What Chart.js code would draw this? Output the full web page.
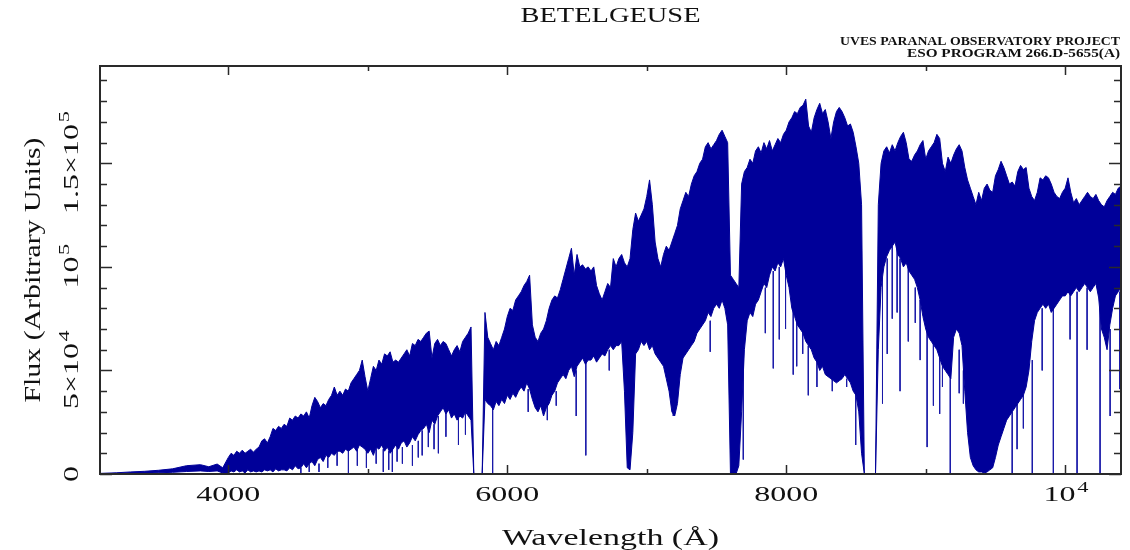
<!DOCTYPE html>
<html>
<head>
<meta charset="utf-8">
<title>Betelgeuse</title>
<script src="https://cdn.jsdelivr.net/npm/chart.js@4.4.1/dist/chart.umd.min.js"></script>
<style>
  html, body { margin: 0; padding: 0; background: #fff; }
  #wrap { width: 1130px; height: 550px; position: relative; }
</style>
</head>
<body>
<div id="wrap"><canvas id="spectrum"></canvas></div>
<script>
// Wavelength grid (Å) with the upper and lower edge of the flux band, in units of 10^3
const wavelength = [
  3080, 3200, 3300, 3400, 3500, 3600, 3700, 3800, 3860, 3920, 3960,
  4000, 4020, 4040, 4060, 4080, 4100, 4120, 4140, 4160, 4180,
  4200, 4220, 4240, 4260, 4280, 4300, 4320, 4340, 4360, 4380,
  4400, 4420, 4440, 4460, 4480, 4500, 4520, 4540, 4560, 4580,
  4600, 4620, 4640, 4660, 4680, 4700, 4720, 4740, 4760, 4780,
  4800, 4820, 4840, 4860, 4880, 4900, 4920, 4940, 4960, 4980,
  5000, 5020, 5040, 5060, 5080, 5100, 5120, 5140, 5160, 5180,
  5200, 5220, 5240, 5260, 5280, 5300, 5320, 5340, 5360, 5380,
  5400, 5420, 5440, 5460, 5480, 5500, 5520, 5540, 5560, 5580,
  5600, 5620, 5640, 5660, 5680, 5700, 5720, 5740, 5760, 5780,
  5800, 5820, 5840, 5860, 5880, 5900, 5920, 5940, 5960, 5980,
  6000, 6020, 6040, 6060, 6080, 6100, 6120, 6140, 6160, 6180,
  6200, 6220, 6240, 6260, 6280, 6300, 6320, 6340, 6360, 6380,
  6400, 6420, 6440, 6460, 6480, 6500, 6520, 6540, 6560, 6580,
  6600, 6620, 6640, 6660, 6680, 6700, 6720, 6740, 6760, 6780,
  6800, 6820, 6840, 6860, 6880, 6900, 6920, 6940, 6960, 6980,
  7000, 7020, 7040, 7060, 7080, 7100, 7120, 7140, 7160, 7180,
  7200, 7220, 7240, 7260, 7280, 7300, 7320, 7340, 7360, 7380,
  7400, 7420, 7440, 7460, 7480, 7500, 7520, 7540, 7560, 7580,
  7600, 7620, 7640, 7660, 7680, 7700, 7720, 7740, 7760, 7780,
  7800, 7820, 7840, 7860, 7880, 7900, 7920, 7940, 7960, 7980,
  8000, 8020, 8040, 8060, 8080, 8100, 8120, 8140, 8160, 8180,
  8200, 8220, 8240, 8260, 8280, 8300, 8320, 8340, 8360, 8380,
  8400, 8420, 8440, 8460, 8480, 8500, 8520, 8540, 8560, 8580,
  8600, 8620, 8640, 8660, 8680, 8700, 8720, 8740, 8760, 8780,
  8800, 8820, 8840, 8860, 8880, 8900, 8920, 8940, 8960, 8980,
  9000, 9020, 9040, 9060, 9080, 9100, 9120, 9140, 9160, 9180,
  9200, 9220, 9240, 9260, 9280, 9300, 9320, 9340, 9360, 9380,
  9400, 9420, 9440, 9460, 9480, 9500, 9520, 9540, 9560, 9580,
  9600, 9620, 9640, 9660, 9680, 9700, 9720, 9740, 9760, 9780,
  9800, 9820, 9840, 9860, 9880, 9900, 9920, 9940, 9960, 9980,
  10000, 10020, 10040, 10060, 10080, 10100, 10120, 10140, 10160, 10180,
  10200, 10220, 10240, 10260, 10280, 10300, 10320, 10340, 10360, 10380,
  10400
];
const fluxTop = [
  0.3, 0.6, 1.0, 1.3, 1.8, 2.5, 4.0, 4.5, 3.5, 4.8, 3.0,
  8, 10, 9, 11, 10, 11.5, 10, 11, 12, 10.5,
  12, 13, 16, 17, 15, 18, 22, 21, 23, 22,
  24, 23, 27, 26, 28, 27, 29, 28, 30, 27,
  33, 37, 35, 32, 34, 33, 36, 38, 42, 38,
  40, 38, 41, 40, 44, 46, 48, 50, 55, 47,
  40, 46, 52, 50, 55, 53, 58, 57, 59, 54,
  55, 54, 56, 58, 60, 57, 63, 62, 65, 64,
  66, 68, 69, 56, 63, 65, 62, 64, 63, 60,
  57, 60, 62, 59, 64, 66, 68, 71, 0, 0,
  0, 0, 78, 66, 63, 60, 64, 62, 66, 70,
  76, 80, 79, 84, 86, 88, 91, 93, 96, 72,
  66, 64, 68, 70, 74, 80, 84, 86, 85, 89,
  94, 99, 104, 109, 96, 106, 100, 101, 99, 100,
  98, 100, 91, 87, 84, 88, 92, 90, 104, 100,
  104, 106, 102, 100, 104, 118, 126, 122, 125, 128,
  134, 142, 130, 112, 104, 100, 106, 110, 108, 112,
  116, 120, 128, 132, 136, 134, 140, 144, 146, 150,
  152, 158, 160, 157, 159, 161, 164, 166, 163, 160,
  96, 94, 92, 90, 140, 146, 148, 152, 150, 156,
  158, 155, 160, 157, 161, 156, 159, 162, 160, 164,
  166, 170, 172, 175, 174, 177, 178, 181, 168, 165,
  172, 176, 179, 174, 176, 170, 162, 170, 175, 177,
  175, 172, 168, 169, 165, 158, 150, 130, 0, 0,
  0, 0, 0, 130, 150, 156, 158, 155, 159, 156,
  160, 163, 165, 160, 152, 151, 154, 156, 159, 161,
  152, 156, 158, 160, 164, 162, 150, 146, 153, 150,
  154, 157, 159, 156, 148, 142, 138, 134, 130, 136,
  132, 138, 140, 137, 136, 144, 147, 151, 148, 144,
  140, 141, 139, 146, 149, 147, 148, 138, 134, 132,
  136, 143, 142, 144, 143, 140, 136, 134, 133, 136,
  138, 143, 136, 131, 133, 130, 132, 134, 136, 134,
  133, 135, 132, 130, 129, 132, 134, 136, 135, 138,
  139
];
const fluxBottom = [
  0, 0, 0.2, 0.4, 0.6, 0.8, 1.2, 1.5, 1.2, 1.5, 0.5,
  0.5, 1.5, 1, 2, 1, 1.5, 0.5, 2, 1, 1.5,
  1, 1.5, 1, 2, 1.5, 2, 1, 2.5, 1.5, 2,
  2, 1.5, 3, 2, 4, 2.5, 3, 5, 3, 5,
  6, 4, 7, 8, 6, 9, 8, 10, 9, 11,
  11, 10, 12, 11, 12, 13, 11, 14, 13, 12,
  10, 12, 9, 13, 12, 14, 11, 13, 10, 12,
  14, 12, 15, 16, 13, 15, 18, 16, 19, 21,
  22, 24, 20, 26, 24, 28, 30, 32, 29, 31,
  27, 29, 26, 28, 27, 30, 28, 26, 0, 0,
  0, 0, 36, 34, 33, 31, 35, 33, 36, 34,
  38, 36, 39, 37, 40, 42, 40, 44, 41, 36,
  32, 30, 33, 28, 32, 34, 38, 40, 44, 46,
  48, 46, 50, 52, 47, 52, 54, 56, 53, 55,
  55, 57, 54, 56, 58, 57, 60, 62, 60, 62,
  62, 64, 40, 3, 2, 20, 58, 60, 64, 62,
  64, 60, 62, 58, 56, 54, 52, 46, 40, 30,
  28, 34, 48, 56, 58, 60, 62, 64, 68, 70,
  72, 74, 78, 76, 80, 82, 80, 84, 80, 72,
  0, 0, 0, 4, 30, 60, 74, 78, 76, 82,
  84, 88, 92, 90, 96, 100, 98, 102, 100, 104,
  96, 90, 80, 76, 72, 70, 68, 64, 62, 60,
  56, 54, 50, 52, 48, 47, 46, 45, 44, 45,
  46, 48, 46, 44, 40, 38, 30, 10, 0, 0,
  0, 0, 0, 60, 90, 100, 105, 108, 110, 112,
  106, 104, 100, 102, 98, 96, 94, 90, 84, 76,
  70, 66, 64, 62, 60, 56, 52, 50, 48, 46,
  66, 70, 68, 62, 40, 20, 8, 4, 2, 1,
  1, 0.5, 1, 2, 3, 8, 14, 18, 22, 26,
  28, 30, 32, 34, 36, 38, 42, 50, 64, 74,
  78, 80, 82, 80, 82, 78, 80, 82, 84, 86,
  86, 88, 86, 88, 90, 88, 90, 92, 90, 88,
  90, 92, 85, 70, 66, 60, 72, 80, 86, 88,
  90
];

// Absorption lines reaching below the band: wavelength (Å), band edge and line core (10^3)
const lineWave = [4520, 4580, 4650, 4713, 4780, 4861, 4925, 4990, 5060, 5111,
  5150, 5176, 5210, 5248, 5320, 5362, 5390, 5434, 5475, 5506,
  5560, 5650, 5700, 5895, 6150, 6287, 6351, 6494, 6563, 6731,
  7190, 7455, 7692, 7850, 7907, 7950, 7995, 8050, 8075, 8118,
  8158, 8220, 8330, 8433, 8498, 8690, 8724, 8760, 8795, 8816,
  8875, 8925, 8960, 9010, 9055, 9100, 9120, 9176, 9240, 9270,
  9620, 9655, 9700, 9764, 9835, 9915, 10035, 10085, 10157, 10250,
  10322, 10390];
const lineFrom = [3, 5, 5, 8, 11, 11, 12, 12, 13, 12,
  11, 12, 14, 13, 14, 16, 21, 22, 24, 28,
  30, 27, 30, 32, 41, 33, 40, 50, 54, 60,
  40, 74, 60, 90, 98, 100, 100, 90, 80, 70,
  62, 54, 46, 46, 40, 95, 104, 110, 112, 104,
  100, 90, 84, 72, 64, 60, 52, 48, 60, 50,
  30, 34, 38, 55, 80, 80, 88, 88, 90, 80,
  70, 88];
const lineTo = [0.5, 1, 1, 3, 4, 0.5, 4, 3, 5, 1,
  2, 1, 6, 5, 4, 8, 9, 13, 12, 10,
  18, 14, 19, 0, 30, 26, 33, 28, 9, 50,
  28, 59, 7, 68, 51, 65, 70, 48, 52, 58,
  38, 42, 40, 42, 14, 34, 58, 75, 78, 40,
  64, 73, 55, 13, 33, 29, 42, 0, 39, 34,
  0, 12, 22, 0, 50, 0, 65, 0, 60, 0,
  28, 41];

// Axis ticks
const xMajor = [4000, 6000, 8000, 10000];
const xMajorText = [['4000', ''], ['6000', ''], ['8000', ''], ['10', '4']];
const xMinor = [5000, 7000, 9000];
const yMajor = [0, 50000, 100000, 150000];
const yMajorText = [['0', ''], ['5×10', '4'], ['10', '5'], ['1.5×10', '5']];
const yMinor = [10000, 20000, 30000, 40000, 60000, 70000, 80000, 90000,
  110000, 120000, 130000, 140000, 160000, 170000, 180000, 190000];

const UNIT = 1000;
const ink = '#000099';
const frameInk = '#2a2a2a';
const serif = '"Liberation Serif", "DejaVu Serif", serif';

const topPts = wavelength.map((w, i) => ({ x: w, y: fluxTop[i] * UNIT }));
const bottomPts = wavelength.map((w, i) => ({ x: w, y: fluxBottom[i] * UNIT }));
const linePts = [];
lineWave.forEach((w, i) => {
  linePts.push({ x: w, y: lineFrom[i] * UNIT }, { x: w, y: lineTo[i] * UNIT }, { x: w, y: null });
});

// text stretched sideways to a given width (plotter lettering is wide)
function fitText(ctx, text, x, y, font, width, align, rot) {
  ctx.save();
  ctx.font = font;
  const w = ctx.measureText(text).width;
  ctx.translate(x, y);
  if (rot) ctx.rotate(rot);
  ctx.scale(width / w, 1);
  let start = -w / 2;
  if (align === 'right') start = -w;
  if (align === 'left') start = 0;
  ctx.textBaseline = 'alphabetic';
  ctx.textAlign = 'left';
  ctx.fillText(text, start, 0);
  ctx.restore();
}

// tick label with optional exponent, centred on (x, y)
function expLabel(ctx, base, exp, x, y, rot) {
  const sx = 1.6;
  const mainFont = '20px ' + serif;
  const supFont = '14px ' + serif;
  ctx.save();
  ctx.translate(x, y);
  if (rot) ctx.rotate(rot);
  ctx.scale(sx, 1);
  ctx.textBaseline = 'alphabetic';
  ctx.textAlign = 'left';
  ctx.font = mainFont;
  const wb = ctx.measureText(base).width;
  ctx.font = supFont;
  const we = exp ? ctx.measureText(exp).width : 0;
  const start = -(wb + we) / 2;
  ctx.font = mainFont;
  ctx.fillText(base, start, 0);
  if (exp) {
    ctx.font = supFont;
    ctx.fillText(exp, start + wb + 1, -9);
  }
  ctx.restore();
}

const pgFrame = {
  id: 'pgFrame',
  afterDraw(chart) {
    const { ctx, chartArea: a, scales } = chart;
    const xs = scales.x, ys = scales.y;
    ctx.save();
    ctx.strokeStyle = frameInk;
    ctx.lineWidth = 2;
    ctx.strokeRect(a.left, a.top, a.right - a.left, a.bottom - a.top);

    ctx.lineWidth = 1.5;
    ctx.beginPath();
    const xTick = (v, len) => {
      const px = Math.round(xs.getPixelForValue(v)) + 0.5;
      ctx.moveTo(px, a.bottom); ctx.lineTo(px, a.bottom - len);
      ctx.moveTo(px, a.top); ctx.lineTo(px, a.top + len);
    };
    const yTick = (v, len) => {
      const py = Math.round(ys.getPixelForValue(v)) + 0.5;
      ctx.moveTo(a.left, py); ctx.lineTo(a.left + len, py);
      ctx.moveTo(a.right, py); ctx.lineTo(a.right - len, py);
    };
    xMajor.forEach(v => xTick(v, 9));
    xMinor.forEach(v => xTick(v, 5));
    yMajor.forEach(v => yTick(v, 12));
    yMinor.forEach(v => yTick(v, 7));
    ctx.stroke();

    ctx.fillStyle = '#111';
    xMajor.forEach((v, i) => {
      expLabel(ctx, xMajorText[i][0], xMajorText[i][1], xs.getPixelForValue(v), 501, 0);
    });
    yMajor.forEach((v, i) => {
      expLabel(ctx, yMajorText[i][0], yMajorText[i][1], 78, ys.getPixelForValue(v), -Math.PI / 2);
    });

    const midX = (a.left + a.right) / 2;
    const midY = (a.top + a.bottom) / 2;
    fitText(ctx, 'BETELGEUSE', midX, 22, '20px ' + serif, 180, 'center');
    fitText(ctx, 'Wavelength (Å)', midX, 545, '24px ' + serif, 217, 'center');
    fitText(ctx, 'Flux (Arbitrary Units)', 40, midY, '24px ' + serif, 265, 'center', -Math.PI / 2);
    fitText(ctx, 'UVES PARANAL OBSERVATORY PROJECT', 1120, 45, 'bold 12px ' + serif, 280, 'right');
    fitText(ctx, 'ESO PROGRAM 266.D-5655(A)', 1120, 57, 'bold 12px ' + serif, 213, 'right');
    ctx.restore();
  }
};

new Chart('spectrum', {
  type: 'line',
  data: {
    datasets: [
      { data: topPts, borderColor: ink, backgroundColor: ink, borderWidth: 1, fill: '+1', pointRadius: 0 },
      { data: bottomPts, borderColor: ink, borderWidth: 1, fill: false, pointRadius: 0 },
      { data: linePts, borderColor: '#1a1aa8', borderWidth: 1, fill: false, pointRadius: 0, spanGaps: false }
    ]
  },
  options: {
    responsive: true,
    maintainAspectRatio: false,
    devicePixelRatio: 1,
    animation: false,
    layout: { padding: { left: 100, right: 9, top: 66, bottom: 76 } },
    elements: { line: { tension: 0 } },
    scales: {
      x: { type: 'linear', min: 3080, max: 10400, display: false },
      y: { type: 'linear', min: 0, max: 197000, display: false }
    },
    plugins: {
      legend: { display: false },
      title: { display: false },
      tooltip: { enabled: false }
    }
  },
  plugins: [pgFrame]
});
</script>
</body>
</html>
